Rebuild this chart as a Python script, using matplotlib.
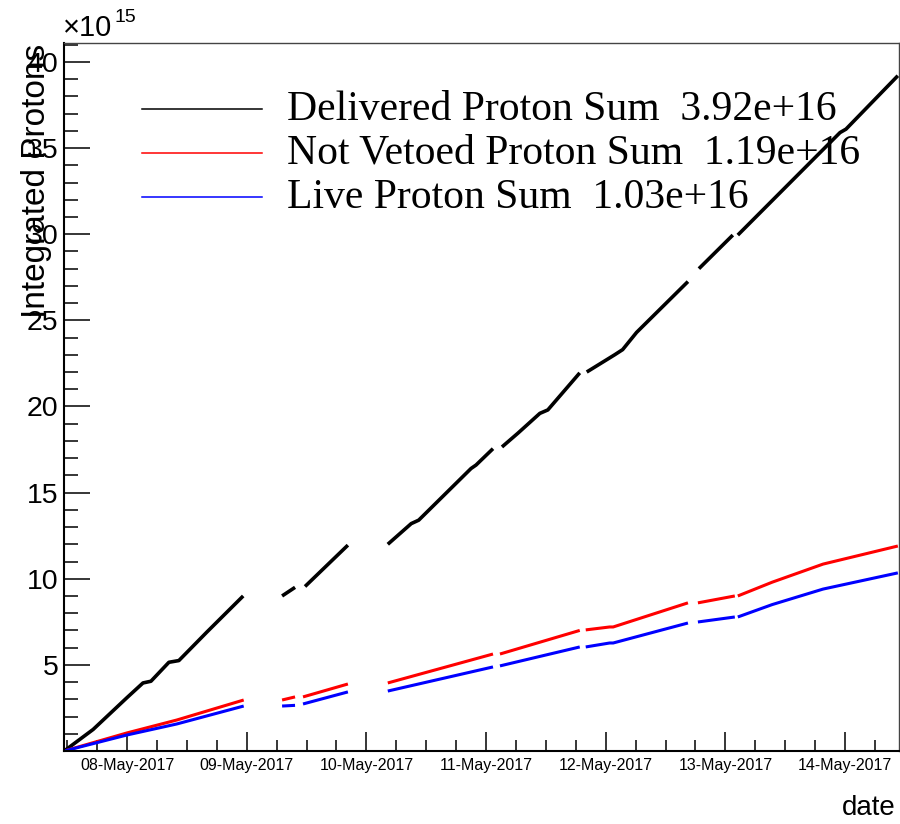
import numpy as np
import matplotlib
matplotlib.use('Agg')
import matplotlib.pyplot as plt
import matplotlib.dates as mdates
from matplotlib.ticker import FixedLocator, MultipleLocator
from datetime import datetime

nan = np.nan

# time in hours since 07-May-2017 00:00, nan marks a gap with no data
hours_delivered = [11.4, 17.2, 24.0, 27.2, 28.8, 32.4, 34.4, 40.0, 47.3, nan,
                   55.1, 57.7, nan,
                   59.7, 68.3, nan,
                   76.3, 81.0, 82.5, 93.0, 94.0, 97.4, nan,
                   99.2, 102.4, 106.8, 108.4, 114.8, nan,
                   116.2, 121.8, 123.4, 126.2, 136.5, nan,
                   138.7, 145.5, nan,
                   146.5, 167.0, 168.2, 178.6]
# integrated protons, units of 1e15
delivered = [0.0, 1.25, 3.1, 3.95, 4.05, 5.15, 5.25, 6.9, 9.0, nan,
             9.0, 9.5, nan,
             9.55, 11.95, nan,
             12.0, 13.2, 13.4, 16.4, 16.6, 17.55, nan,
             17.65, 18.45, 19.6, 19.8, 21.95, nan,
             22.0, 23.0, 23.3, 24.3, 27.25, nan,
             28.0, 29.95, nan,
             29.95, 35.9, 36.1, 39.2]

hours_veto = [11.4, 24.0, 34.0, 47.4, nan,
              55.1, 57.7, nan,
              59.3, 68.3, nan,
              76.3, 97.4, nan,
              98.8, 114.8, nan,
              116.0, 120.8, 121.5, 136.5, nan,
              138.5, 145.9, nan,
              146.5, 153.4, 163.6, 178.6]
not_vetoed = [0.0, 1.05, 1.8, 2.96, nan,
              2.96, 3.14, nan,
              3.14, 3.89, nan,
              3.95, 5.63, nan,
              5.63, 7.0, nan,
              7.03, 7.2, 7.2, 8.6, nan,
              8.6, 9.0, nan,
              9.0, 9.8, 10.85, 11.9]
live = [0.0, 0.93, 1.57, 2.61, nan,
        2.61, 2.65, nan,
        2.73, 3.43, nan,
        3.48, 4.88, nan,
        4.94, 6.04, nan,
        6.04, 6.27, 6.27, 7.43, nan,
        7.49, 7.78, nan,
        7.78, 8.5, 9.4, 10.34]

labels = ['Delivered Proton Sum  3.92e+16',
          'Not Vetoed Proton Sum  1.19e+16',
          'Live Proton Sum  1.03e+16']
colors = ['black', '#ff0000', '#0000ff']

t0 = mdates.date2num(datetime(2017, 5, 7))
x_del = t0 + np.array(hours_delivered) / 24.0
x_veto = t0 + np.array(hours_veto) / 24.0

fig = plt.figure(figsize=(9, 8.24), dpi=100)
ax = fig.add_axes([64/900, 1-751/824, 835/900, 708/824])

ax.plot(x_del, delivered, color=colors[0], lw=2.6, solid_capstyle='butt')
ax.plot(x_veto, not_vetoed, color=colors[1], lw=2.2, solid_capstyle='butt')
ax.plot(x_veto, live, color=colors[2], lw=2.2, solid_capstyle='butt')

ax.set_xlim(t0 + 11.36/24, t0 + 178.83/24)
ax.set_ylim(0, 41.1)

ax.xaxis.set_major_locator(mdates.DayLocator())
ax.xaxis.set_minor_locator(mdates.HourLocator(byhour=[6, 12, 18]))
ax.xaxis.set_major_formatter(mdates.DateFormatter('%d-%b-%Y'))
ax.yaxis.set_major_locator(FixedLocator([5, 10, 15, 20, 25, 30, 35, 40]))
ax.yaxis.set_minor_locator(MultipleLocator(1))

ax.tick_params(axis='y', which='major', direction='in', length=19, width=1.1,
               labelsize=20.5, pad=4)
ax.tick_params(axis='y', which='minor', direction='in', length=10, width=1.1)
ax.tick_params(axis='x', which='major', direction='in', length=14, width=1.1,
               labelsize=11.5, pad=5)
ax.tick_params(axis='x', which='minor', direction='in', length=8, width=1.1)
for lab in ax.get_xticklabels() + ax.get_yticklabels():
    lab.set_fontfamily('Liberation Sans')

for s in ['left', 'bottom']:
    ax.spines[s].set_linewidth(1.5)
for s in ['top', 'right']:
    ax.spines[s].set_linewidth(1.0)
    ax.spines[s].set_color('#444444')

# legend, drawn by hand ROOT style
rows_y = [0.9068, 0.8446, 0.7825]
for i in range(3):
    ax.plot([0.0934, 0.2371], [rows_y[i], rows_y[i]], color=colors[i], lw=1.1,
            transform=ax.transAxes)
    ax.text(0.267, rows_y[i] - 0.0155, labels[i], transform=ax.transAxes,
            fontsize=30, family='Liberation Serif', va='baseline', ha='left')

fig.text(37/900, 1-44/824, 'Integrated Protons', rotation=90, ha='center',
         va='top', fontsize=24, family='Liberation Sans')
fig.text(896/900, 1-815/824, 'date', ha='right', va='baseline', fontsize=20,
         family='Liberation Sans')
fig.text(63/900, 1-36/824, '\u00d710', ha='left', va='baseline', fontsize=21,
         family='Liberation Sans')
fig.text(115/900, 1-22/824, '15', ha='left', va='baseline', fontsize=14,
         family='Liberation Sans')

fig.savefig('out.png', dpi=100)
